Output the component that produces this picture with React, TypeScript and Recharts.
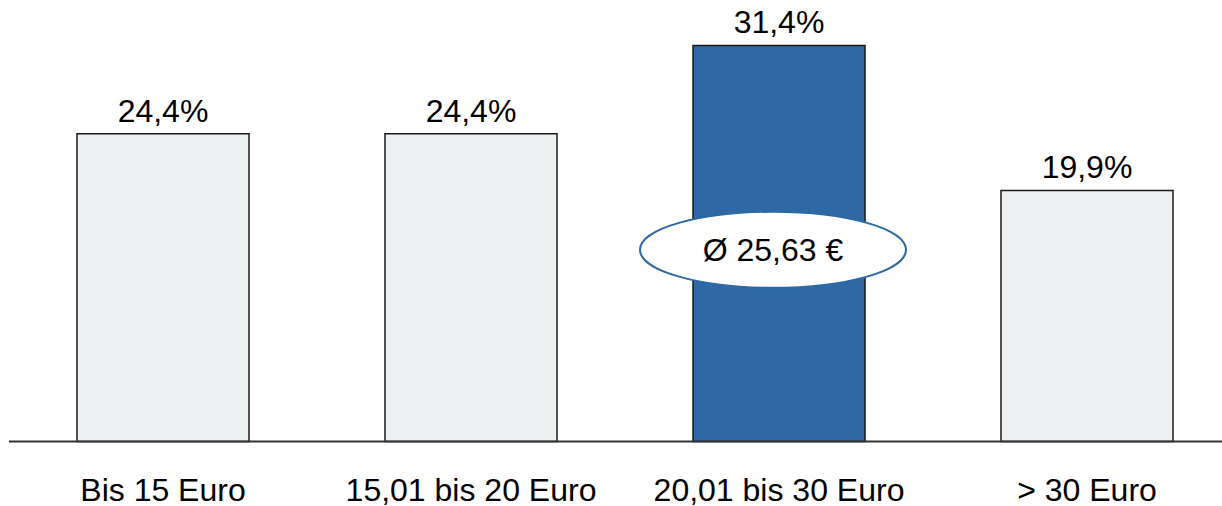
import React from 'react';
import { BarChart, Bar, XAxis, YAxis, Cell, LabelList, ReferenceDot } from 'recharts';

const categories = ['Bis 15 Euro', '15,01 bis 20 Euro', '20,01 bis 30 Euro', '> 30 Euro'];
const shares = [24.4, 24.4, 31.4, 19.9];
const highlighted = [false, false, true, false];
const averageText = 'Ø 25,63 €';
const averageCategory = '20,01 bis 30 Euro';
const averageLabelY = 15.2;

const data = categories.map((name, i) => ({ name, share: shares[i], hi: highlighted[i] }));

const FONT = '"Liberation Sans", Arial, sans-serif';

const AverageBubble = (props: any) => {
  const { cx, cy } = props;
  if (cx == null || cy == null) return null;
  const x = cx - 6;
  return (
    <g>
      <ellipse cx={x} cy={cy} rx={133} ry={38} fill="#ffffff" stroke="#2e69a5" strokeWidth={2} />
      <text
        x={x}
        y={cy}
        textAnchor="middle"
        dominantBaseline="central"
        fontSize={32}
        fontFamily={FONT}
        fill="#000"
      >
        {averageText}
      </text>
    </g>
  );
};

export default function App() {
  return (
    <div style={{ position: 'absolute', left: 0, top: 0, width: 1222, height: 506, overflow: 'hidden', background: '#fff' }}>
      <BarChart
        width={1242}
        height={506}
        data={data}
        margin={{ top: 0, right: 1, bottom: 0, left: 9 }}
        barSize={172}
      >
        <XAxis
          dataKey="name"
          height={64.5}
          tickLine={false}
          axisLine={{ stroke: '#333', strokeWidth: 2 }}
          tickMargin={31}
          interval={0}
          tick={{ fontSize: 32, fill: '#000', fontFamily: FONT }}
        />
        <YAxis hide domain={[0, 35]} />
        <Bar dataKey="share" stroke="#1a1a1a" strokeWidth={1.5} isAnimationActive={false}>
          {data.map((d) => (
            <Cell key={d.name} fill={d.hi ? '#2e69a5' : '#edf1f2'} />
          ))}
          <LabelList
            dataKey="share"
            position="top"
            offset={12}
            formatter={(v: any) => `${String(v).replace('.', ',')}%`}
            style={{ fontSize: 32, fill: '#000', fontFamily: FONT }}
          />
        </Bar>
        <ReferenceDot x={averageCategory} y={averageLabelY} shape={AverageBubble} ifOverflow="visible" />
      </BarChart>
    </div>
  );
}
